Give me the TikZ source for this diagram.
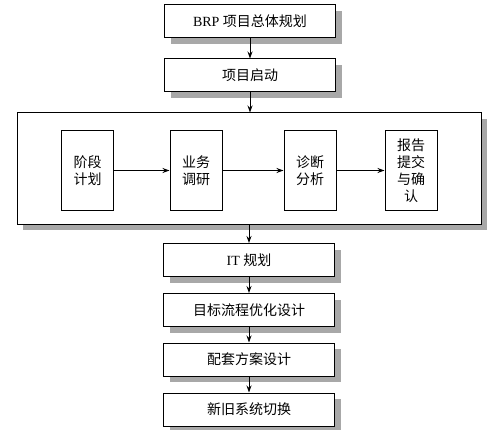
\documentclass[tikz,border=0pt]{standalone}
\usepackage{fontspec}
\setmainfont{Liberation Serif}
\newfontfamily\cjk{Noto Sans CJK SC}
\usetikzlibrary{arrows.meta,shadows}
\definecolor{shadowgray}{HTML}{A8A8A8}
\tikzset{
  sh/.style={drop shadow={shadow xshift=6pt,shadow yshift=-6pt,fill=shadowgray,opacity=1}},
  mainbox/.style={draw,line width=1pt,fill=white,minimum width=171pt,minimum height=33pt,inner sep=0pt,sh,font=\fontsize{14}{16}\selectfont},
  innerbox/.style={draw,line width=1pt,fill=white,minimum width=52pt,minimum height=79pt,inner sep=0pt,align=center,font=\cjk\fontsize{14}{17}\selectfont},
  arr/.style={line width=1pt,-{Stealth[length=7pt,width=5pt]}}
}
\begin{document}
\begin{tikzpicture}[x=1pt,y=1pt]
\useasboundingbox (0,0) rectangle (500,429);
\node[mainbox] (brp) at (250,407.5) {BRP {\cjk 项目总体规划}};
\node[mainbox] (qd) at (250,353.5) {\cjk 项目启动};
\node[draw,line width=1pt,fill=white,minimum width=464pt,minimum height=111pt,inner sep=0pt,sh] (big) at (249,260.5) {};
\node[innerbox] (a) at (87.5,258.5) {阶段\\计划};
\node[innerbox] (b) at (196,258.5) {业务\\调研};
\node[innerbox] (c) at (310,258.5) {诊断\\分析};
\node[innerbox] (d) at (411,258.5) {报告\\提交\\与确\\认};
\node[mainbox] (it) at (249,169) {IT {\cjk 规划}};
\node[mainbox] (mb) at (249,119) {\cjk 目标流程优化设计};
\node[mainbox] (pt) at (249,69.5) {\cjk 配套方案设计};
\node[mainbox] (xj) at (249,19.5) {\cjk 新旧系统切换};
\draw[arr] (brp) -- (qd);
\draw[arr] (qd.south) -- (qd.south |- big.north);
\draw[arr] (big.south -| it.north) -- (it.north);
\draw[arr] (it) -- (mb);
\draw[arr] (mb) -- (pt);
\draw[arr] (pt) -- (xj);
\draw[arr] (a) -- (b);
\draw[arr] (b) -- (c);
\draw[arr] (c) -- (d);
\end{tikzpicture}
\end{document}
